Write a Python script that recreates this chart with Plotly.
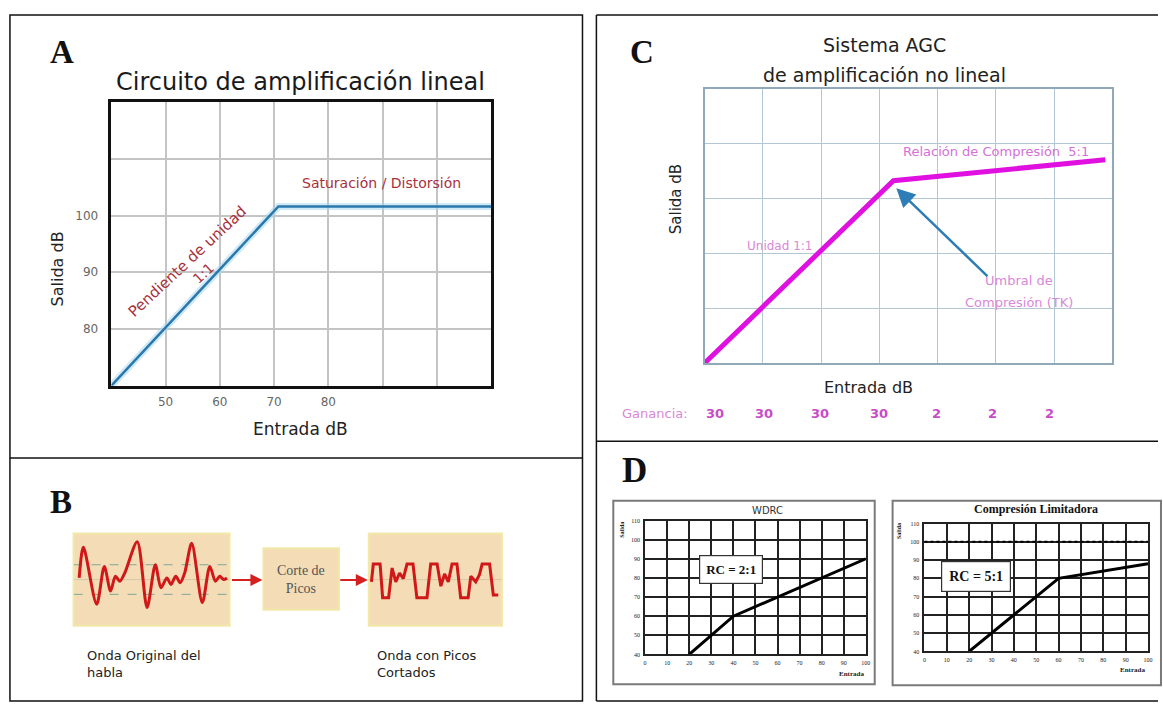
import plotly.graph_objects as go

W, H = 1163, 706

# ---------------- data ----------------
# Panel A: linear amplifier (input dB -> output dB)
a_in = [40, 70.8, 110]
a_out = [70, 101.6, 101.6]
a_xticks = [40, 50, 60, 70, 80, 90, 100, 110]
a_xtext = ["", "50", "60", "70", "80", "", "", ""]
a_yticks = [70, 80, 90, 100, 110, 120]
a_ytext = ["", "80", "90", "100", "", ""]

# Panel C: AGC non-linear (grid units)
c_in = [0, 3.24, 6.88]
c_out = [0, 3.33, 3.71]
c_gain_pos = [0.17, 1.02, 1.98, 3.0, 3.98, 4.95, 5.92]
c_gain = ["30", "30", "30", "30", "2", "2", "2"]

# Panel D: WDRC and limiting compression
wdrc_in = [20, 40, 100]
wdrc_out = [40, 60, 90]
lim_in = [20, 60, 100]
lim_out = [40, 80, 88]
lim_level_x = [0, 100]
lim_level_y = [100, 100]
d_xticks = [0, 10, 20, 30, 40, 50, 60, 70, 80, 90, 100]
d_yticks = [40, 50, 60, 70, 80, 90, 100, 110]

# Panel B: speech wave (original) and peak-clipped wave
wave_t = [3.6, 6.3, 14.8, 19.7, 23.7, 26.8, 29.6, 32.8, 40.8, 47.1, 52.4, 56.0,
          59.8, 62.4, 65.5, 68.3, 71.2, 75.7, 82.5, 87.3, 90.9, 93.7, 96.2, 98.3]
wave_a = [0.05, 0.98, -0.75, 0.40, -0.35, 0.10, -0.05, 0.20, 1.15, -0.85, 0.45, -0.25,
          0.05, -0.15, 0.10, -0.10, 0.20, 1.10, -0.70, 0.40, -0.05, 0.10, 0.0, 0.05]
clip_levels = [0.45, -0.45]
clip_t = [2.0, 3.4, 8.5, 10.4, 14.9, 17.5, 20.3, 23.1, 25.9, 28.7, 33.2, 36.1, 43.7,
          46.5, 51.3, 54.1, 56.9, 59.7, 62.5, 66.2, 69.0, 74.6, 76.6, 80.3, 83.1,
          85.1, 90.7, 93.5, 97.2]
clip_a = [-0.07, 0.47, 0.47, -0.55, -0.55, 0.35, -0.07, 0.20, 0.03, 0.47, 0.47, -0.55, -0.55,
          0.47, 0.47, -0.20, 0.17, -0.07, 0.47, 0.47, -0.55, -0.55, 0.10, -0.07, 0.15,
          0.47, 0.47, -0.47, -0.47]


def PX(p):
    return p / W


def PY(p):
    return 1 - p / H


SANS = "DejaVu Sans"
SERIF = "Liberation Serif"
RED = "#a8303c"
PINK = "#d888d8"
MAG = "#e010e0"

fig = go.Figure()

# Panel A traces
fig.add_trace(go.Scatter(x=a_in, y=a_out, mode="lines", xaxis="x", yaxis="y",
                         line=dict(color="rgba(170,215,240,0.55)", width=7), hoverinfo="skip"))
fig.add_trace(go.Scatter(x=a_in, y=a_out, mode="lines", xaxis="x", yaxis="y",
                         line=dict(color="#2a78ac", width=2.5)))
# Panel C
fig.add_trace(go.Scatter(x=c_in, y=c_out, mode="lines", xaxis="x2", yaxis="y2",
                         line=dict(color=MAG, width=5)))
# Panel D
fig.add_trace(go.Scatter(x=wdrc_in, y=wdrc_out, mode="lines", xaxis="x3", yaxis="y3",
                         line=dict(color="black", width=3)))
fig.add_trace(go.Scatter(x=lim_level_x, y=lim_level_y, mode="lines", xaxis="x4", yaxis="y4",
                         line=dict(color="black", width=2, dash="dot")))
fig.add_trace(go.Scatter(x=lim_in, y=lim_out, mode="lines", xaxis="x4", yaxis="y4",
                         line=dict(color="black", width=3)))
# Panel B waves
for lv in clip_levels:
    fig.add_trace(go.Scatter(x=[0, 100], y=[lv, lv], mode="lines", xaxis="x5", yaxis="y5",
                             line=dict(color="#7fa89a", width=1, dash="dash")))
fig.add_trace(go.Scatter(x=[0, 100], y=[0, 0], mode="lines", xaxis="x5", yaxis="y5",
                         line=dict(color="#d8c8a8", width=1)))
fig.add_trace(go.Scatter(x=wave_t, y=wave_a, mode="lines", xaxis="x5", yaxis="y5",
                         line=dict(color="#d01818", width=3, shape="spline", smoothing=0.8)))
fig.add_trace(go.Scatter(x=[0, 100], y=[0, 0], mode="lines", xaxis="x6", yaxis="y6",
                         line=dict(color="#d8c8a8", width=1)))
fig.add_trace(go.Scatter(x=clip_t, y=clip_a, mode="lines", xaxis="x6", yaxis="y6",
                         line=dict(color="#d01818", width=3)))

# ---------------- axes ----------------
common_hidden = dict(visible=False, fixedrange=True)
lay = dict(
    width=W, height=H, margin=dict(l=0, r=0, t=0, b=0), autosize=False,
    showlegend=False, plot_bgcolor="rgba(0,0,0,0)", paper_bgcolor="white",
    font=dict(family=SANS, color="#222"),
    xaxis=dict(domain=[PX(110), PX(492)], anchor="y", range=[40, 110],
               tickmode="array", tickvals=a_xticks, ticktext=a_xtext,
               showgrid=True, gridcolor="#c4c4c4", gridwidth=1.5,
               showline=True, mirror=True, linecolor="#111", linewidth=2.5,
               ticks="outside", ticklen=3, tickcolor="rgba(0,0,0,0)",
               tickfont=dict(size=12, color="#666"), zeroline=False),
    yaxis=dict(domain=[PY(386), PY(100)], anchor="x", range=[70, 120],
               tickmode="array", tickvals=a_yticks, ticktext=a_ytext,
               showgrid=True, gridcolor="#c4c4c4", gridwidth=1.5,
               showline=True, mirror=True, linecolor="#111", linewidth=2.5,
               ticks="outside", ticklen=8, tickcolor="rgba(0,0,0,0)",
               tickfont=dict(size=12, color="#666"), zeroline=False),
    xaxis2=dict(domain=[PX(707), PX(1117)], anchor="y2", range=[0, 7], dtick=1,
                showgrid=True, gridcolor="#b4c8d4", gridwidth=1.2, showticklabels=False,
                showline=True, mirror=True, linecolor="#90a8b8", linewidth=1.5, zeroline=False),
    yaxis2=dict(domain=[PY(363), PY(87)], anchor="x2", range=[0, 5], dtick=1,
                showgrid=True, gridcolor="#b4c8d4", gridwidth=1.2, showticklabels=False,
                showline=True, mirror=True, linecolor="#90a8b8", linewidth=1.5, zeroline=False),
)
for ax, dom_x, dom_y in [("3", (647, 869), (657, 522)), ("4", (928, 1153), (654, 525))]:
    lay["xaxis" + ax] = dict(domain=[PX(dom_x[0]), PX(dom_x[1])], anchor="y" + ax, range=[0, 100],
                             tickmode="array", tickvals=d_xticks,
                             showgrid=True, gridcolor="#222", gridwidth=1.7,
                             showline=True, mirror=True, linecolor="#222", linewidth=1.7,
                             ticks="outside", ticklen=2, tickcolor="rgba(0,0,0,0)",
                             tickfont=dict(size=6, family=SERIF, color="#222"), zeroline=False)
    lay["yaxis" + ax] = dict(domain=[PY(dom_y[0]), PY(dom_y[1])], anchor="x" + ax, range=[40, 110],
                             tickmode="array", tickvals=d_yticks,
                             showgrid=True, gridcolor="#222", gridwidth=1.7,
                             showline=True, mirror=True, linecolor="#222", linewidth=1.7,
                             ticks="outside", ticklen=2, tickcolor="rgba(0,0,0,0)",
                             tickfont=dict(size=6, family=SERIF, color="#222"), zeroline=False)
lay["xaxis5"] = dict(domain=[PX(72), PX(229)], anchor="y5", range=[0, 100], **common_hidden)
lay["yaxis5"] = dict(domain=[PY(628), PY(535)], anchor="x5", range=[-1.4, 1.4], **common_hidden)
lay["xaxis6"] = dict(domain=[PX(369), PX(503)], anchor="y6", range=[0, 100], **common_hidden)
lay["yaxis6"] = dict(domain=[PY(628), PY(535)], anchor="x6", range=[-1.4, 1.4], **common_hidden)
fig.update_layout(**lay)

# ---------------- shapes ----------------
shapes = []


def pline(x0, y0, x1, y1, color="#111", width=1.5):
    shapes.append(dict(type="line", xref="paper", yref="paper", x0=PX(x0), y0=PY(y0),
                       x1=PX(x1), y1=PY(y1), line=dict(color=color, width=width)))


def prect(x0, y0, x1, y1, color="#111", width=1.5, fill=None, layer="above"):
    shapes.append(dict(type="rect", xref="paper", yref="paper", x0=PX(x0), y0=PY(y0),
                       x1=PX(x1), y1=PY(y1), line=dict(color=color, width=width),
                       fillcolor=fill if fill else "rgba(0,0,0,0)", layer=layer))


# panel frames
prect(8, 12, 584, 704)
pline(8, 459, 584, 459)
pline(598, 12, 1163, 12)
pline(598, 12, 598, 704)
pline(598, 704, 1163, 704)
pline(598, 442, 1163, 442)
# D sub-frames
prect(615, 502, 878, 687, color="#7a7a7a", width=2)
prect(896, 502, 1166, 688, color="#7a7a7a", width=2)
# B boxes (wave boxes follow their axes' domains)
for ax in ("x5", "x6"):
    shapes.append(dict(type="rect", xref=ax + " domain", yref="y" + ax[1:] + " domain",
                       x0=0, x1=1, y0=0, y1=1, fillcolor="#f3dcb6",
                       line=dict(color="#f2e8a8", width=2), layer="below"))
prect(263, 550, 339, 612, color="#f2e8a8", width=2, fill="#f3dcb6", layer="below")
fig.update_layout(shapes=shapes)

# ---------------- annotations ----------------
ann = []


def ptext(x, y, text, size, color="#222", family=SANS, angle=0, xanchor="center", align="center"):
    ann.append(dict(xref="paper", yref="paper", x=PX(x), y=PY(y), text=text, showarrow=False,
                    font=dict(size=size, color=color, family=family), textangle=angle,
                    xanchor=xanchor, yanchor="middle", align=align))


def dtext(ax, x, y, text, size, color, family=SANS, angle=0, **kw):
    d = dict(xref="x" + ax, yref="y" + ax, x=x, y=y, text=text, showarrow=False,
             font=dict(size=size, color=color, family=family), textangle=angle,
             xanchor="center", yanchor="middle")
    d.update(kw)
    ann.append(d)


# Panel letters
ptext(60, 49, "<b>A</b>", 33, "#111", SERIF)
ptext(59, 503, "<b>B</b>", 33, "#111", SERIF)
ptext(644, 49, "<b>C</b>", 33, "#111", SERIF)
ptext(636, 472, "<b>D</b>", 35, "#111", SERIF)

# Panel A
ptext(300, 80, "Circuito de amplificación lineal", 24, "#1a1a1a")
ptext(56, 268, "Salida dB", 16, "#222", angle=-90)
ptext(300, 430, "Entrada dB", 17, "#222")
dtext("", 89.8, 105.8, "Saturación / Distorsión", 14, RED)
dtext("", 53.9, 91.9, "Pendiente de unidad", 15, RED, angle=-43)
dtext("", 57.0, 89.9, "1:1", 14, RED, angle=-43)

# Panel C
ptext(888, 42, "Sistema AGC", 19, "#222")
ptext(888, 73, "de amplificación no lineal", 19, "#222")
ptext(678, 198, "Salida dB", 15, "#222", angle=-90)
ptext(872, 388, "Entrada dB", 16, "#222")
ptext(657, 414, "Ganancia:", 13, PINK)
for xp, g in zip(c_gain_pos, c_gain):
    ann.append(dict(xref="x2", yref="paper", x=xp, y=PY(414), text="<b>" + g + "</b>",
                    showarrow=False, font=dict(size=13, color="#c84cc8", family=SANS),
                    xanchor="center", yanchor="middle"))
dtext("2", 5.0, 3.86, "Relación de Compresión  5:1", 13, "#d470d8")
dtext("2", 1.28, 2.14, "Unidad 1:1", 12, PINK)
dtext("2", 5.39, 1.5, "Umbral de", 13, PINK)
dtext("2", 5.39, 1.1, "Compresión (TK)", 13, PINK)
ann.append(dict(xref="x2", yref="y2", x=3.29, y=3.19, axref="x2", ayref="y2", ax=4.88, ay=1.56,
                text="", showarrow=True, arrowhead=2, arrowsize=1.5, arrowwidth=2.5,
                arrowcolor="#2e7db6"))

# Panel D
ptext(770, 512, "WDRC", 10, "#333")
ptext(1040, 510, "<b>Compresión Limitadora</b>", 12, "#111", SERIF)
dtext("3", 38.7, 84.6, "<b>RC = 2:1</b>", 13, "#111", SERIF,
      bordercolor="#333", borderwidth=1.2, borderpad=6, bgcolor="white")
dtext("4", 23, 81.2, "<b>RC = 5:1</b>", 14, "#111", SERIF,
      bordercolor="#333", borderwidth=1.2, borderpad=7, bgcolor="white")
ptext(624, 531, "<b>Salida</b>", 6, "#222", SERIF, angle=-90)
ptext(903, 533, "<b>Salida</b>", 6, "#222", SERIF, angle=-90)
ptext(855, 677, "<b>Entrada</b>", 7, "#222", SERIF)
ptext(1137, 673, "<b>Entrada</b>", 7, "#222", SERIF)

# Panel B
ptext(301, 581, "Corte de<br>Picos", 14, "#555", SERIF)
ann.append(dict(xref="paper", yref="paper", x=PX(262), y=PY(582), ax=-32, ay=0, text="",
                showarrow=True, arrowhead=2, arrowsize=1.2, arrowwidth=2, arrowcolor="#d42020"))
ann.append(dict(xref="paper", yref="paper", x=PX(368), y=PY(582), ax=-29, ay=0, text="",
                showarrow=True, arrowhead=2, arrowsize=1.2, arrowwidth=2, arrowcolor="#d42020"))
ptext(84, 667, "Onda Original del<br>habla", 13, "#222", xanchor="left", align="left")
ptext(375, 667, "Onda con Picos<br>Cortados", 13, "#222", xanchor="left", align="left")

fig.update_layout(annotations=ann)
fig.write_html("out.html", config={"displayModeBar": False},
               post_script="document.body.style.margin='0';document.body.style.overflow='hidden';")
